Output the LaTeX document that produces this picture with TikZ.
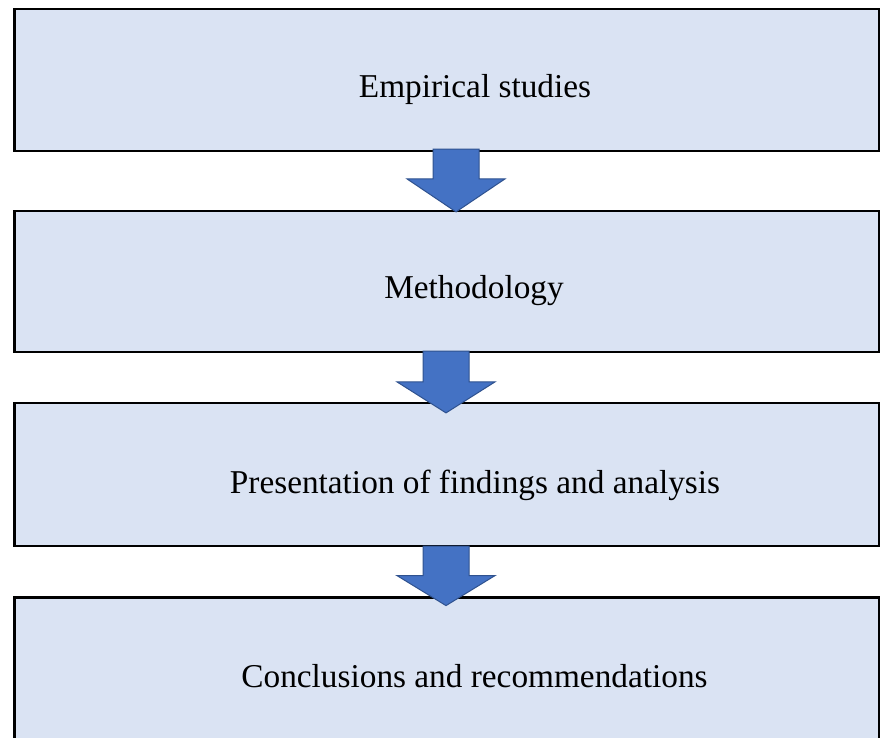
\documentclass[tikz,border=0pt]{standalone}
\usepackage{fontspec}
\setmainfont{Liberation Serif}
\usetikzlibrary{calc}
\definecolor{boxfill}{HTML}{DAE3F3}
\definecolor{arrowfill}{HTML}{4472C4}
\definecolor{arrowline}{HTML}{2F528F}
% #1 from node, #2 to node, #3 x shift, #4 top offset, #5 tip offset, #6 head length
\newcommand\blockarrow[6]{%
  \draw[barrow] let \p1=($(#1.south)+(#3,#4)$), \p2=($(#2.north)+(#3,#5)$) in
    (\x1-23pt,\y1) -- (\x1+23pt,\y1) -- (\x1+23pt,\y2+#6pt) -- (\x1+49pt,\y2+#6pt)
    -- (\x1,\y2) -- (\x1-49pt,\y2+#6pt) -- (\x1-23pt,\y2+#6pt) -- cycle;}
\begin{document}
\begin{tikzpicture}[x=1pt,y=-1pt,
  box/.style={draw=black, line width=2.2pt, fill=boxfill, inner sep=0pt, minimum width=864.5pt},
  barrow/.style={fill=arrowfill, draw=arrowline, line width=1pt, line join=miter},
  lbl/.style={font=\fontsize{33.3}{40}\selectfont, inner sep=0pt, anchor=base, text=black}]
\useasboundingbox (0,0) rectangle (880,738);
\clip (0,0) rectangle (880,738);
\node[box, minimum height=142pt]   (b1) at (446.75,79.7) {};
\node[box, minimum height=141.3pt] (b2) at (446.75,281.35) {};
\node[box, minimum height=143pt]   (b3) at (446.75,474.5) {};
\node[box, minimum height=147.5pt] (b4) at (446.75,671.25) {};
\node[lbl] (t1) at (475,97.3) {Empirical studies};
\node[lbl] (t2) at (474,298) {Methodology};
\node[lbl] (t3) at (475,493) {Presentation of findings and analysis};
\node[lbl] (t4) at (474.5,687) {Conclusions and recommendations};
\blockarrow{b1}{b2}{9.25}{-2.7}{2.3}{33}
\blockarrow{b2}{b3}{-0.75}{-2}{11}{31}
\blockarrow{b3}{b4}{-0.75}{-1}{9.2}{30}
\end{tikzpicture}
\end{document}
